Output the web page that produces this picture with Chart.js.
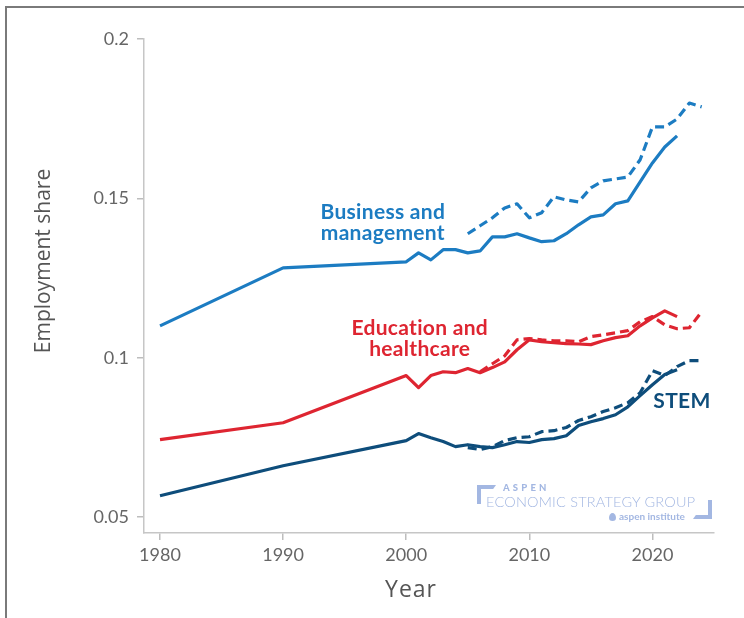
<!DOCTYPE html>
<html>
<head>
<meta charset="utf-8">
<script src="https://cdn.jsdelivr.net/npm/chart.js@4.4.1/dist/chart.umd.min.js"></script>
<style>
  html, body { margin: 0; padding: 0; background: #ffffff; }
  #wrap { position: relative; width: 744px; height: 618px; overflow: hidden; }
  #frame { position: absolute; left: 5px; top: 6px; width: 760px; height: 640px;
           border-top: 2px solid #7a7a7a; border-left: 2px solid #7a7a7a; }
  canvas { position: absolute; left: 0; top: 0; }
  .logo { position: absolute; color: #a3b7e2; font-family: Lato, sans-serif; white-space: nowrap; }
  .bar { position: absolute; background: #a3b7e2; }
  #aspen { left: 503px; top: 482px; font-size: 9.5px; font-weight: 900; letter-spacing: 3.2px; }
  #esg { left: 486px; top: 493px; font-size: 14.5px; font-weight: 300; letter-spacing: 0.2px; }
  #inst { left: 619px; top: 510px; font-size: 10px; font-weight: 700; }
  #leaf { position: absolute; left: 609px; top: 513px; width: 7px; height: 8px; border-radius: 50% 50% 50% 50% / 60% 60% 40% 40%; background: #a3b7e2; }
</style>
</head>
<body>
<div id="wrap">
  <div id="frame"></div>
  <canvas id="chart" width="744" height="618"></canvas>
  <div class="bar" style="left:477px;top:485px;width:19px;height:4px;clip-path:polygon(0 0,100% 0,85% 100%,0 100%);"></div>
  <div class="bar" style="left:477px;top:485px;width:4px;height:19px;"></div>
  <div class="bar" style="left:708px;top:500px;width:4px;height:19px;"></div>
  <div class="bar" style="left:693px;top:515px;width:19px;height:4px;clip-path:polygon(15% 0,100% 0,100% 100%,0 100%);"></div>
  <div class="logo" id="aspen">ASPEN</div>
  <div class="logo" id="esg">ECONOMIC STRATEGY GROUP</div>
  <div id="leaf"></div>
  <div class="logo" id="inst">aspen institute</div>
</div>
<script>
// Years covered by the long-run series and by the recent annual series
const solidYears = [1980, 1990, 2000, 2001, 2002, 2003, 2004, 2005, 2006, 2007, 2008, 2009,
  2010, 2011, 2012, 2013, 2014, 2015, 2016, 2017, 2018, 2019, 2020, 2021, 2022];
const dashedYears = [2005, 2006, 2007, 2008, 2009, 2010, 2011, 2012, 2013, 2014,
  2015, 2016, 2017, 2018, 2019, 2020, 2021, 2022, 2023, 2024];

// Employment shares, long-run series (solid lines)
const businessSolid = [0.1100, 0.1282, 0.1301, 0.1329, 0.1307, 0.1339, 0.1339, 0.1329, 0.1335,
  0.1379, 0.1379, 0.1389, 0.1376, 0.1364, 0.1367, 0.1389, 0.1417, 0.1442, 0.1448, 0.1483,
  0.1492, 0.1552, 0.1611, 0.1661, 0.1696];
const educationSolid = [0.0743, 0.0796, 0.0944, 0.0906, 0.0944, 0.0956, 0.0953, 0.0966, 0.0953,
  0.0969, 0.0987, 0.1025, 0.1056, 0.1050, 0.1047, 0.1044, 0.1043, 0.1041, 0.1053, 0.1063,
  0.1069, 0.1100, 0.1125, 0.1147, 0.1129];
const stemSolid = [0.0567, 0.0661, 0.0740, 0.0762, 0.0749, 0.0737, 0.0721, 0.0727, 0.0721,
  0.0718, 0.0727, 0.0737, 0.0734, 0.0743, 0.0746, 0.0755, 0.0787, 0.0799, 0.0809, 0.0821,
  0.0846, 0.0881, 0.0915, 0.0947, 0.0962];

// Employment shares, annual series (dashed lines)
const businessDashed = [0.1389, 0.1414, 0.1439, 0.1470, 0.1483, 0.1439, 0.1455, 0.1505, 0.1495,
  0.1489, 0.1533, 0.1555, 0.1561, 0.1567, 0.1621, 0.1724, 0.1724, 0.1749, 0.1799, 0.1787];
const educationDashed = [null, 0.0956, 0.0981, 0.1006, 0.1056, 0.1060, 0.1056, 0.1053, 0.1053,
  0.1050, 0.1066, 0.1072, 0.1078, 0.1085, 0.1113, 0.1129, 0.1103, 0.1091, 0.1094, 0.1144];
const stemDashed = [0.0718, 0.0712, 0.0721, 0.0740, 0.0749, 0.0752, 0.0768, 0.0771, 0.0781,
  0.0803, 0.0815, 0.0831, 0.0843, 0.0859, 0.0890, 0.0959, 0.0944, 0.0972, 0.0991, 0.0991];

// Axis ticks
const xTicks = [1980, 1990, 2000, 2010, 2020];
const yTicks = [0.05, 0.1, 0.15, 0.2];

const BLUE = '#1c7cc2';
const RED = '#de2531';
const NAVY = '#0e4d7b';

const pts = (years, vals) => years.map((y, i) => ({ x: y, y: vals[i] }));

function series(years, vals, color, dashed) {
  return {
    data: pts(years, vals),
    borderColor: color,
    backgroundColor: color,
    borderWidth: 3.2,
    borderDash: dashed ? [9, 5] : [],
    borderJoinStyle: 'round',
    pointRadius: 0,
    fill: false,
    tension: 0,
    spanGaps: false
  };
}

// Series names and axis titles written onto the canvas
const textPlugin = {
  id: 'chartText',
  afterDatasetsDraw(chart, args, opts) {
    const { ctx, scales: { x, y } } = chart;
    ctx.save();
    ctx.textAlign = 'center';
    ctx.textBaseline = 'middle';
    ctx.font = 'bold 21px Lato';
    ctx.letterSpacing = '0.3px';
    opts.labels.forEach(l => {
      ctx.fillStyle = l.color;
      const cx = x.getPixelForValue(l.year);
      const cy = y.getPixelForValue(l.value);
      l.lines.forEach((t, i) => ctx.fillText(t, cx, cy + i * 21));
    });
    // axis titles
    ctx.fillStyle = '#555555';
    ctx.font = '500 23px "Open Sans"';
    ctx.letterSpacing = '1px';
    ctx.fillText('Year', 411, 590);
    ctx.letterSpacing = '0px';
    ctx.translate(44, 261);
    ctx.rotate(-Math.PI / 2);
    ctx.font = '21px "Open Sans"';
    ctx.fillText('Employment share', 0, 0);
    ctx.restore();
  }
};

Chart.defaults.font.family = 'Lato';

new Chart(document.getElementById('chart'), {
  type: 'line',
  data: {
    datasets: [
      series(solidYears, businessSolid, BLUE, false),
      series(dashedYears, businessDashed, BLUE, true),
      series(solidYears, educationSolid, RED, false),
      series(dashedYears, educationDashed, RED, true),
      series(solidYears, stemSolid, NAVY, false),
      series(dashedYears, stemDashed, NAVY, true)
    ]
  },
  options: {
    responsive: false,
    animation: false,
    events: [],
    layout: { padding: { left: 0, top: 39, right: 30, bottom: 0 } },
    plugins: {
      legend: { display: false },
      tooltip: { enabled: false },
      chartText: {
        labels: [
          { lines: ['Business and', 'management'], year: 1998.1, value: 0.1458, color: BLUE },
          { lines: ['Education and', 'healthcare'], year: 2001.1, value: 0.1091, color: RED },
          { lines: ['STEM'], year: 2022.4, value: 0.0862, color: NAVY }
        ]
      }
    },
    scales: {
      x: {
        type: 'linear',
        min: 1978.7,
        max: 2025,
        afterBuildTicks: s => { s.ticks = xTicks.map(v => ({ value: v })); },
        afterFit: s => { s.height = 85; },
        ticks: {
          callback: v => String(v),
          color: '#666666',
          font: { size: 18 },
          padding: 4,
          maxRotation: 0
        },
        grid: { display: true, drawOnChartArea: false, drawTicks: true, tickLength: 7, color: '#bdbdbd', lineWidth: 1.5 },
        border: { display: true, color: '#c6c6c6', width: 1.5 }
      },
      y: {
        type: 'linear',
        min: 0.045,
        max: 0.2,
        afterBuildTicks: s => { s.ticks = yTicks.map(v => ({ value: v })); },
        afterFit: s => { s.width = 144; },
        ticks: {
          callback: v => String(v),
          color: '#666666',
          font: { size: 18 },
          padding: 8
        },
        grid: { display: true, drawOnChartArea: false, drawTicks: true, tickLength: 7, color: '#bdbdbd', lineWidth: 1.5 },
        border: { display: true, color: '#c6c6c6', width: 1.5 }
      }
    }
  },
  plugins: [textPlugin]
});
</script>
</body>
</html>
